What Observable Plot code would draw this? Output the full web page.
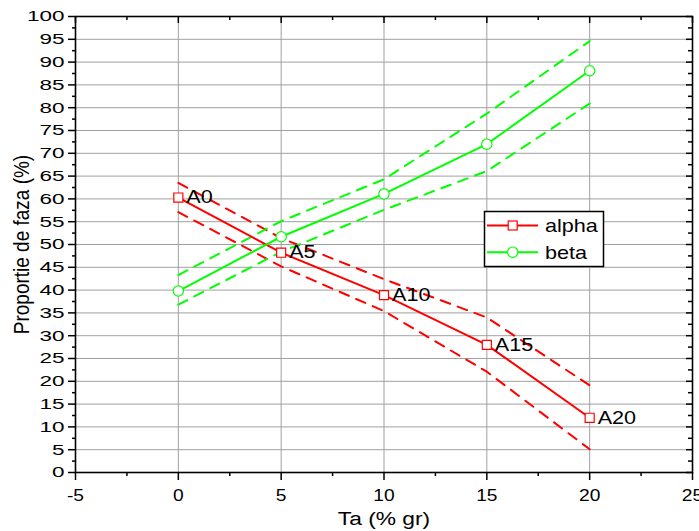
<!DOCTYPE html>
<html>
<head>
<meta charset="utf-8">
<script src="https://cdn.jsdelivr.net/npm/d3@7"></script>
<script src="https://cdn.jsdelivr.net/npm/@observablehq/plot@0.6"></script>
<style>
  html, body { margin: 0; padding: 0; background: #fff; }
  #chart svg { display: block; }
</style>
</head>
<body>
<div id="chart"></div>
<script>
// ---- data ----
const taValues = [0, 5, 10, 15, 20];
const sampleLabels = ["A0", "A5", "A10", "A15", "A20"];
const alphaValues = [60.3, 48.2, 38.9, 28.0, 12.0];
const alphaUpper  = [63.5, 51.4, 42.4, 34.0, 19.1];
const alphaLower  = [57.1, 45.2, 35.4, 22.1, 5.1];
const betaValues  = [39.8, 51.7, 61.1, 72.0, 88.1];
const betaUpper   = [43.3, 55.1, 64.3, 78.7, 94.6];
const betaLower   = [36.8, 48.4, 57.6, 66.1, 80.9];
const seriesNames = ["alpha", "beta"];
const seriesColors = ["#ff0000", "#00ff00"];
const xTicks = [-5, 0, 5, 10, 15, 20, 25];
const xMinor = [-2.5, 2.5, 7.5, 12.5, 17.5, 22.5];
const xGrid = [0, 5, 10, 15, 20];
const yTicks = [0, 5, 10, 15, 20, 25, 30, 35, 40, 45, 50, 55, 60, 65, 70, 75, 80, 85, 90, 95, 100];
const yMinor = [2.5, 7.5, 12.5, 17.5, 22.5, 27.5, 32.5, 37.5, 42.5, 47.5, 52.5, 57.5, 62.5, 67.5, 72.5, 77.5, 82.5, 87.5, 92.5, 97.5];
const yGrid = [5, 10, 15, 20, 25, 30, 35, 40, 45, 50, 55, 60, 65, 70, 75, 80, 85, 90, 95];
const xTitle = "Ta (% gr)";
const yTitle = "Proportie de faza (%)";

// ---- layout ----
const W = 699, H = 531;
const mL = 75, mR = 7, mT = 16, mB = 59;
const plotW = W - mL - mR, plotH = H - mT - mB;
const FONT = "'Liberation Sans', Arial, sans-serif";
const STRETCH = 1.2;
const STRETCH_Y = 1.5;

const alpha = taValues.map((t, i) => ({ta: t, v: alphaValues[i], up: alphaUpper[i], lo: alphaLower[i], label: sampleLabels[i]}));
const beta  = taValues.map((t, i) => ({ta: t, v: betaValues[i], up: betaUpper[i], lo: betaLower[i]}));

const dash = "10,8";
const fmt = d => String(d);

const plot = Plot.plot({
  width: W, height: H,
  marginLeft: mL, marginRight: mR, marginTop: mT, marginBottom: mB,
  style: {fontFamily: FONT, fontSize: "16px", color: "black", background: "white", overflow: "visible"},
  x: {domain: [-5, 25], label: null},
  y: {domain: [0, 100], label: null},
  marks: [
    Plot.gridX(xGrid, {stroke: "#a0a0a0", strokeOpacity: 1, strokeWidth: 1}),
    Plot.gridY(yGrid, {stroke: "#a0a0a0", strokeOpacity: 1, strokeWidth: 1}),
    // confidence bands
    Plot.line(alpha, {x: "ta", y: "up", stroke: seriesColors[0], strokeWidth: 2, strokeDasharray: dash}),
    Plot.line(alpha, {x: "ta", y: "lo", stroke: seriesColors[0], strokeWidth: 2, strokeDasharray: dash}),
    Plot.line(beta, {x: "ta", y: "up", stroke: seriesColors[1], strokeWidth: 2, strokeDasharray: dash}),
    Plot.line(beta, {x: "ta", y: "lo", stroke: seriesColors[1], strokeWidth: 2, strokeDasharray: dash}),
    // main lines
    Plot.line(alpha, {x: "ta", y: "v", stroke: seriesColors[0], strokeWidth: 2}),
    Plot.line(beta, {x: "ta", y: "v", stroke: seriesColors[1], strokeWidth: 2}),
    // markers
    Plot.dot(alpha, {x: "ta", y: "v", symbol: "square", r: 5.1, fill: "white", stroke: seriesColors[0], strokeWidth: 1.2}),
    Plot.dot(beta, {x: "ta", y: "v", symbol: "circle", r: 5.2, fill: "white", stroke: seriesColors[1], strokeWidth: 1.2}),
    // sample labels
    Plot.text(alpha, {x: "ta", y: "v", text: "label", dx: 8, textAnchor: "start", fontSize: 18, fill: "black"}),
    // frame
    Plot.frame({stroke: "black", strokeWidth: 1.6}),
    // bottom axis (outward)
    Plot.axisX(xTicks, {anchor: "bottom", tickSize: 8, tickPadding: 9, tickFormat: fmt, fontSize: 16, label: null, strokeWidth: 1.5}),
    Plot.tickX(xMinor, {x: d => d, insetTop: plotH, insetBottom: -4, stroke: "black", strokeWidth: 1.5}),
    // top ticks (inward)
    Plot.tickX(xTicks, {x: d => d, insetBottom: plotH - 7, stroke: "black", strokeWidth: 1.5}),
    Plot.tickX(xMinor, {x: d => d, insetBottom: plotH - 4, stroke: "black", strokeWidth: 1.5}),
    // left axis (outward)
    Plot.axisY(yTicks, {anchor: "left", tickSize: 7, tickPadding: 4, tickFormat: fmt, fontSize: 15, label: null, strokeWidth: 1.5}),
    Plot.tickY(yMinor, {y: d => d, insetLeft: -3, insetRight: plotW, stroke: "black", strokeWidth: 1.5}),
    // right ticks (inward)
    Plot.tickY(yTicks, {y: d => d, insetLeft: plotW - 6, stroke: "black", strokeWidth: 1.5}),
    Plot.tickY(yMinor, {y: d => d, insetLeft: plotW - 4, stroke: "black", strokeWidth: 1.5}),
    // axis titles
    Plot.text([xTitle], {frameAnchor: "bottom", dy: 46, textAnchor: "middle", lineAnchor: "middle", fontSize: 19, fill: "black"}),
    Plot.text([yTitle], {frameAnchor: "left", dx: -54, rotate: -90, textAnchor: "middle", lineAnchor: "middle", fontSize: 19, fill: "black"})
  ]
});

document.getElementById("chart").appendChild(plot);
const svg = d3.select(plot);

// legend (inside plot area)
const lg = svg.append("g").attr("font-family", FONT).attr("font-size", 18).attr("text-anchor", "start");
lg.append("rect").attr("x", 484.5).attr("y", 211.5).attr("width", 119).attr("height", 55)
  .attr("fill", "white").attr("stroke", "black").attr("stroke-width", 1.5);
seriesNames.forEach((name, i) => {
  const cy = 225.5 + i * 26.7;
  lg.append("line").attr("x1", 487).attr("x2", 538).attr("y1", cy).attr("y2", cy)
    .attr("stroke", seriesColors[i]).attr("stroke-width", 2);
  if (i === 0) {
    lg.append("rect").attr("x", 508.2).attr("y", cy - 4.5).attr("width", 9).attr("height", 9)
      .attr("fill", "white").attr("stroke", seriesColors[i]).attr("stroke-width", 1.2);
  } else {
    lg.append("circle").attr("cx", 512.7).attr("cy", cy).attr("r", 5.2)
      .attr("fill", "white").attr("stroke", seriesColors[i]).attr("stroke-width", 1.2);
  }
  lg.append("text").attr("x", 545).attr("y", cy + 7).attr("fill", "black").attr("text-anchor", "start").text(name);
});

// the reference's lettering is horizontally stretched; widen glyphs around their anchors
plot.querySelectorAll("text").forEach(t => {
  const isY = !!t.closest('g[aria-label="y-axis tick label"]');
  const s = isY ? STRETCH_Y : STRETCH;
  const tr = t.getAttribute("transform");
  if (tr) {
    if (tr.includes("rotate")) t.setAttribute("transform", tr + ` scale(1,${s})`);
    else t.setAttribute("transform", tr + ` scale(${s},1)`);
  } else {
    const x = parseFloat(t.getAttribute("x")) || 0;
    const y = parseFloat(t.getAttribute("y")) || 0;
    t.setAttribute("transform", `translate(${x},${y}) scale(${s},1) translate(${-x},${-y})`);
  }
});
</script>
</body>
</html>
